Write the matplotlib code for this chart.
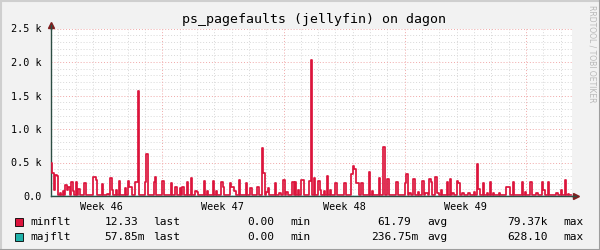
import matplotlib
matplotlib.use("Agg")
import matplotlib.pyplot as plt
from matplotlib.patches import Rectangle
from matplotlib.lines import Line2D
import numpy as np

## data: 2 hour averages (12 per day), first sample 6.42 days before week 47
start_day = -6.42
minflt = [
    500, 340, 90, 310, 300, 15, 40, 15, 75, 15, 165, 90,
    140, 15, 215, 80, 15, 205, 15, 105, 15, 15, 15, 190,
    15, 15, 15, 15, 15, 280, 280, 240, 15, 15, 15, 180,
    15, 15, 15, 30, 15, 265, 90, 15, 15, 90, 15, 225,
    15, 15, 15, 115, 15, 225, 140, 140, 15, 15, 215, 215,
    1570, 15, 15, 15, 15, 215, 622, 15, 15, 15, 15, 215,
    290, 15, 15, 15, 15, 225, 15, 15, 15, 15, 15, 200,
    15, 15, 140, 15, 15, 125, 15, 140, 15, 15, 215, 15,
    15, 275, 15, 15, 75, 65, 15, 15, 15, 15, 225, 15,
    75, 15, 15, 15, 225, 15, 75, 15, 15, 15, 215, 140,
    15, 15, 15, 15, 190, 140, 140, 75, 15, 15, 240, 15,
    15, 15, 15, 190, 15, 15, 115, 15, 15, 15, 15, 140,
    15, 15, 722, 350, 15, 65, 115, 15, 15, 15, 15, 190,
    15, 15, 40, 15, 15, 240, 15, 65, 15, 15, 15, 205,
    15, 205, 15, 90, 15, 240, 240, 15, 15, 15, 15, 225,
    2030, 15, 275, 15, 15, 225, 90, 15, 15, 75, 15, 300,
    15, 90, 15, 15, 15, 200, 15, 15, 15, 15, 15, 190,
    15, 15, 15, 15, 330, 450, 400, 190, 190, 15, 15, 190,
    15, 15, 15, 15, 365, 15, 75, 15, 15, 15, 15, 265,
    15, 15, 737, 15, 15, 255, 15, 15, 15, 15, 15, 205,
    15, 15, 15, 15, 15, 200, 330, 15, 40, 15, 15, 250,
    15, 15, 65, 15, 15, 230, 15, 40, 40, 15, 250, 215,
    15, 15, 280, 40, 40, 15, 90, 15, 15, 15, 205, 15,
    250, 15, 40, 15, 15, 230, 190, 15, 15, 40, 15, 15,
    15, 40, 15, 15, 15, 65, 15, 478, 100, 15, 15, 190,
    15, 15, 40, 15, 215, 15, 50, 15, 15, 15, 40, 15,
    15, 15, 15, 140, 140, 140, 15, 15, 215, 15, 15, 15,
    15, 15, 215, 15, 65, 15, 15, 15, 215, 15, 15, 15,
    50, 15, 15, 15, 215, 90, 15, 15, 215, 15, 15, 15,
    15, 15, 40, 15, 15, 90, 15, 15, 240, 15, 30, 15,
    12,
]
# majflt, one value per day (tiny)
majflt = [0.3, 0.2, 0.1, 0.4, 0.2, 0.1, 0.3, 0.2, 0.2, 0.1, 0.3, 0.2, 0.1, 0.2, 0.3, 0.2,
          0.1, 0.2, 0.3, 0.1, 0.2, 0.2, 0.3, 0.1, 0.2, 0.1, 0.3, 0.2, 0.2, 0.1, 0.06]

week_labels = ["Week 46", "Week 47", "Week 48", "Week 49"]
week_label_pos = [-3.5, 3.5, 10.5, 17.5]
ytick_vals = [0, 500, 1000, 1500, 2000, 2500]
ytick_labels = ["0.0", "0.5 k", "1.0 k", "1.5 k", "2.0 k", "2.5 k"]

legend_rows = [
    ("minflt", "12.33", "0.00", "61.79", "79.37k", "#DC143C"),
    ("majflt", "57.85m", "0.00", "236.75m", "628.10", "#20B2AA"),
]

W, H = 600, 250
def px(x):
    return x / W
def py(y):
    return 1 - y / H

mono = "DejaVu Sans Mono"
fig = plt.figure(figsize=(6, 2.5), dpi=100, facecolor="#F2F2F2")
ax = fig.add_axes([px(51), py(196), (572 - 51) / W, (196 - 28.5) / H])
ax.set_facecolor("white")

x0, x1 = -6.42, 23.65
ax.set_xlim(x0, x1)
ax.set_ylim(0, 2500)

# grid
for d in range(-6, 24):
    if d % 7 == 0:
        continue
    ax.axvline(d, color="#D8D8D8", lw=0.7, ls=(0, (1, 2)), zorder=0)
for v in range(100, 2501, 100):
    if v % 500 == 0:
        continue
    ax.axhline(v, color="#D8D8D8", lw=0.7, ls=(0, (1, 2)), zorder=0)
for d in [0, 7, 14, 21]:
    ax.axvline(d, color="#F0A8A8", lw=0.7, ls=(0, (1, 2)), zorder=0)
for v in range(500, 2501, 500):
    ax.axhline(v, color="#F0A8A8", lw=0.7, ls=(0, (1, 2)), zorder=0)

t = start_day + np.arange(len(minflt)) / 12.0
ax.plot(t, minflt, drawstyle="steps-post", color="#DC143C", lw=1.25, zorder=3)
tm = start_day + np.arange(len(majflt))
ax.plot(tm, majflt, drawstyle="steps-post", color="#20B2AA", lw=1.0, zorder=4)

for s in ["top", "right"]:
    ax.spines[s].set_visible(False)
for s in ["left", "bottom"]:
    ax.spines[s].set_color("#2C4D43")
    ax.spines[s].set_linewidth(1.0)

ax.set_yticks(ytick_vals)
ax.set_yticklabels(ytick_labels, family=mono, fontsize=7.3)
ax.set_xticks(week_label_pos)
ax.set_xticklabels(week_labels, family=mono, fontsize=7.3)
ax.tick_params(axis="both", length=0, pad=7)
ax.tick_params(axis="x", pad=4)

# arrows
ax.plot([0], [1.02], marker="^", color="#7F1F1F", ms=4, transform=ax.transAxes, clip_on=False)
ax.plot([1.008], [0], marker=">", color="#7F1F1F", ms=4, transform=ax.transAxes, clip_on=False)
ax.add_line(Line2D([0, 0], [1.0, 1.02], transform=ax.transAxes, color="#2C4D43", lw=1, clip_on=False))
ax.add_line(Line2D([1.0, 1.008], [0, 0], transform=ax.transAxes, color="#2C4D43", lw=1, clip_on=False))

fig.text(px(314), py(19), "ps_pagefaults (jellyfin) on dagon", ha="center", va="center",
         family=mono, fontsize=9.5)
fig.text(px(592), py(5), "RRDTOOL / TOBI OETIKER", rotation=270, ha="center", va="top",
         fontsize=5.5, color="#B8B8B8")

# legend
for i, (name, last, mn, avg, mx, col) in enumerate(legend_rows):
    yc = 222 + i * 14.5
    fig.add_artist(Rectangle((px(15), py(yc + 4)), 8 / W, 8 / H, transform=fig.transFigure,
                             facecolor=col, edgecolor="black", lw=0.6))
    items = [(30, name), (104.3, last), (153, "last"), (247.7, mn), (290, "min"),
             (377.3 if i == 0 else 371, avg), (427, "avg"), (507, mx), (563, "max")]
    for xx, txt in items:
        fig.text(px(xx), py(yc), txt, ha="left", va="center", family=mono, fontsize=8)

# 3d frame
fig.add_artist(Line2D([0, 1], [py(0.5), py(0.5)], transform=fig.transFigure, color="#CFCFCF", lw=1.5))
fig.add_artist(Line2D([px(0.5), px(0.5)], [0, 1], transform=fig.transFigure, color="#CFCFCF", lw=1.5))
fig.add_artist(Line2D([0, 1], [py(249.5), py(249.5)], transform=fig.transFigure, color="#9E9E9E", lw=1.5))
fig.add_artist(Line2D([px(599.5), px(599.5)], [0, 1], transform=fig.transFigure, color="#9E9E9E", lw=1.5))

fig.savefig("out.png", dpi=100, facecolor=fig.get_facecolor())
